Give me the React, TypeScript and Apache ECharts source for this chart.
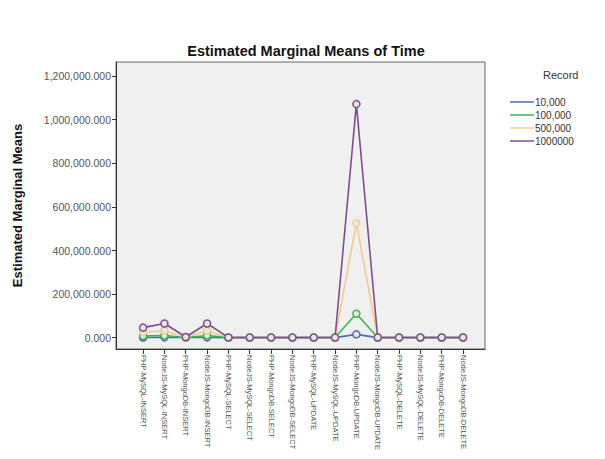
import React, { useEffect, useRef } from "react";
import * as echarts from "echarts";

const categories = [
  "PHP-MySQL-INSERT", "NodeJS-MySQL-INSERT", "PHP-MongoDB-INSERT", "NodeJS-MongoDB-INSERT",
  "PHP-MySQL-SELECT", "NodeJS-MySQL-SELECT", "PHP-MongoDB-SELECT", "NodeJS-MongoDB-SELECT",
  "PHP-MySQL-UPDATE", "NodeJS-MySQL-UPDATE", "PHP-MongoDB-UPDATE", "NodeJS-MongoDB-UPDATE",
  "PHP-MySQL-DELETE", "NodeJS-MySQL-DELETE", "PHP-MongoDB-DELETE", "NodeJS-MongoDB-DELETE",
];
const seriesNames = ["10,000", "100,000", "500,000", "1000000"];
const r10k = [1000, 1500, 500, 1500, 300, 300, 300, 300, 300, 300, 15000, 300, 300, 300, 300, 300];
const r100k = [8000, 10000, 1000, 10000, 500, 500, 500, 500, 500, 500, 110000, 500, 500, 500, 500, 500];
const r500k = [25000, 32000, 2000, 32000, 800, 800, 800, 800, 800, 800, 525000, 800, 800, 800, 800, 800];
const r1m = [46000, 65000, 3000, 65000, 1000, 1000, 1000, 1000, 1000, 1000, 1072000, 1000, 1000, 1000, 1000, 1000];
const yTicks = [0, 200000, 400000, 600000, 800000, 1000000, 1200000];
const colors = ["#4a6fb5", "#3cb54a", "#f2cc8f", "#7d4e8f"];

const allSeries = [r10k, r100k, r500k, r1m];
const FONT = "Liberation Sans, Arial, sans-serif";

export default function App() {
  const ref = useRef<HTMLDivElement>(null);
  useEffect(() => {
    const chart = echarts.init(ref.current!, null, { renderer: "svg" });
    const idx = categories.map((_, i) => i);
    chart.setOption({
      animation: false,
      textStyle: { fontFamily: FONT },
      title: {
        text: "Estimated Marginal Means of Time",
        left: 301,
        textAlign: "center",
        top: 38,
        textStyle: { fontSize: 14.5, fontWeight: "bold", color: "#111" },
      },
      legend: {
        show: true,
        orient: "vertical",
        left: 505,
        top: 92,
        itemWidth: 24,
        itemHeight: 1.5,
        itemGap: 3,
        icon: "rect",
        textStyle: { fontSize: 10, color: "#333", padding: [0, 0, 0, -4] },
        data: seriesNames.map((n, i) => ({
          name: n,
          itemStyle: { color: colors[i], borderWidth: 0 },
        })),
      },
      graphic: [
        {
          type: "text",
          left: 543,
          top: 69,
          style: { text: "Record", fontSize: 11, fill: "#333", fontFamily: FONT },
        },
      ],
      grid: {
        left: 116,
        right: 120,
        top: 62,
        bottom: 110,
        show: true,
        backgroundColor: "#f0f0f0",
        borderColor: "#666",
        borderWidth: 1,
      },
      xAxis: {
        type: "value",
        min: -1.27,
        max: 16.03,
        splitLine: { show: false },
        axisLine: { show: true, onZero: false, lineStyle: { color: "#333" } },
        axisTick: { show: true, customValues: idx, length: 5, lineStyle: { color: "#333" } },
        axisLabel: {
          customValues: idx,
          rotate: -90,
          fontSize: 7.5,
          color: "#555",
          margin: 6,
          formatter: (v: number) => categories[Math.round(v)] ?? "",
        },
      },
      yAxis: {
        type: "value",
        min: -52000,
        max: 1265000,
        name: "Estimated Marginal Means",
        nameLocation: "middle",
        nameGap: 92,
        nameTextStyle: { fontSize: 13, fontWeight: "bold", color: "#111" },
        splitLine: { show: false },
        axisLine: { show: true, onZero: false, lineStyle: { color: "#333" } },
        axisTick: { show: true, customValues: yTicks, length: 4, lineStyle: { color: "#333" } },
        axisLabel: {
          customValues: yTicks,
          fontSize: 10.5,
          color: "#555",
          margin: 5,
          formatter: (v: number) =>
            v.toLocaleString("en-US", { minimumFractionDigits: 3, maximumFractionDigits: 3 }),
        },
      },
      series: allSeries.map((arr, s) => ({
        name: seriesNames[s],
        type: "line",
        data: arr.map((v, i) => [i, v]),
        symbol: "circle",
        symbolSize: 7,
        showAllSymbol: true,
        lineStyle: { color: colors[s], width: 1.6 },
        itemStyle: { color: "#e8e8e8", borderColor: colors[s], borderWidth: 1.5 },
        color: colors[s],
        z: 2 + s,
      })),
    });
    return () => chart.dispose();
  }, []);
  return <div ref={ref} style={{ width: 605, height: 459, margin: -8 }} />;
}
